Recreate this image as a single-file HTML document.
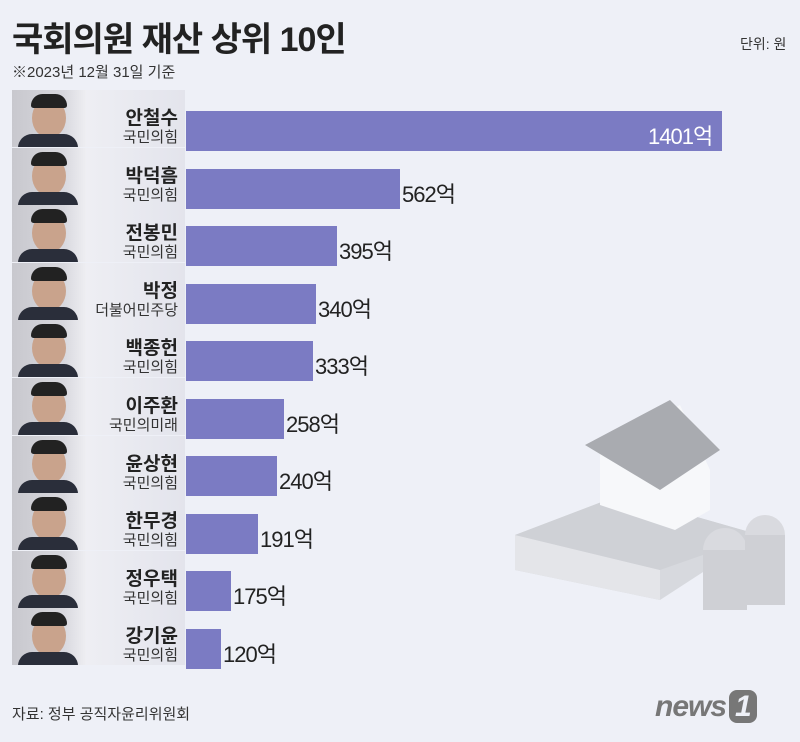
<!DOCTYPE html>
<html><head><meta charset="utf-8"><style>
body{margin:0;width:800px;height:742px;background:#eef0f7;position:relative;overflow:hidden;font-family:"Liberation Sans","Noto Sans CJK KR",sans-serif;color:#222}
.a{position:absolute}
.panel{position:absolute;left:12px;width:173px;height:57px;background:linear-gradient(90deg,#f6f6f9,#e3e4ec)}
.photo{position:absolute;left:12px;width:74px;height:57px;background:linear-gradient(90deg,#c8c8ce 0%,#d8d8de 70%,#eeeef2 100%)}
.head{position:absolute;width:34px;height:40px;border-radius:50%;background:#c9a38c}
.hair{position:absolute;width:36px;height:14px;border-radius:18px 18px 4px 4px;background:#222}
.suit{position:absolute;width:60px;height:14px;border-radius:20px 20px 0 0;background:#2a2e3a}
.nm{position:absolute;right:622px;text-align:right;font-size:19px;font-weight:bold;white-space:nowrap}
.pt{position:absolute;right:622px;text-align:right;font-size:15px;color:#333;white-space:nowrap}
.bar{position:absolute;left:186px;height:40px;background:#7b7bc3}
.v{position:absolute;font-size:22px;color:#222;white-space:nowrap;letter-spacing:-1px}
</style></head><body>
<div class="a" style="left:12px;top:12px;font-size:34px;font-weight:bold;letter-spacing:-1px">국회의원 재산 상위 10인</div>
<div class="a" style="left:12px;top:61px;font-size:15px;color:#333">※2023년 12월 31일 기준</div>
<div class="a" style="left:740px;top:34px;font-size:14px;color:#333">단위: 원</div>
<div id="rows"></div>
<script>
var d=[["안철수","국민의힘","1401억",722],["박덕흠","국민의힘","562억",400],["전봉민","국민의힘","395억",337],["박정","더불어민주당","340억",316],["백종헌","국민의힘","333억",313],["이주환","국민의미래","258억",284],["윤상현","국민의힘","240억",277],["한무경","국민의힘","191억",258],["정우택","국민의힘","175억",231],["강기윤","국민의힘","120억",221]];
var h="";
d.forEach(function(r,i){var t=90+57.6*i,b=111+57.5*i;
h+='<div class="panel" style="top:'+t+'px"></div><div class="photo" style="top:'+t+'px;overflow:hidden"><div class="head" style="top:8px;left:20px"></div><div class="hair" style="top:4px;left:19px"></div><div class="suit" style="top:44px;left:6px"></div></div>';
h+='<div class="nm" style="top:'+(t+13)+'px">'+r[0]+'</div><div class="pt" style="top:'+(t+36)+'px">'+r[1]+'</div>';
h+='<div class="bar" style="top:'+b+'px;width:'+(r[3]-186)+'px"></div>';
if(i==0)h+='<div class="v" style="left:648px;top:'+(b+8)+'px;color:#fff">'+r[2]+'</div>';
else h+='<div class="v" style="left:'+(r[3]+2)+'px;top:'+(b+8)+'px">'+r[2]+'</div>';});
document.getElementById("rows").innerHTML=h;
</script>
<svg class="a" style="left:510px;top:385px" width="280" height="240" viewBox="0 0 280 240">
<polygon points="5,150 110,110 250,150 150,215 5,185" fill="#d7d9de"/>
<polygon points="5,150 150,185 150,215 5,185" fill="#e4e5e9"/>
<polygon points="5,150 110,110 250,150 150,185" fill="#cfd1d6"/>
<polygon points="90,65 170,20 200,85 200,125 165,145 90,120" fill="#f7f8fa"/>
<polygon points="75,60 160,15 210,65 150,105" fill="#a9abb0"/>
<circle cx="215" cy="165" r="22" fill="#d9dadf"/><rect x="193" y="165" width="44" height="60" fill="#cfd0d5"/>
<circle cx="255" cy="150" r="20" fill="#d9dadf"/><rect x="235" y="150" width="40" height="70" fill="#cfd0d5"/>
</svg>
<div class="a" style="left:12px;top:703px;font-size:15px;color:#333">자료: 정부 공직자윤리위원회</div>
<div class="a" style="left:655px;top:690px;font-size:30px;font-weight:bold;font-style:italic;color:#777;letter-spacing:-1px">news<span style="background:#777;color:#eef0f7;border-radius:8px;padding:0 6px;margin-left:3px">1</span></div>
</body></html>
